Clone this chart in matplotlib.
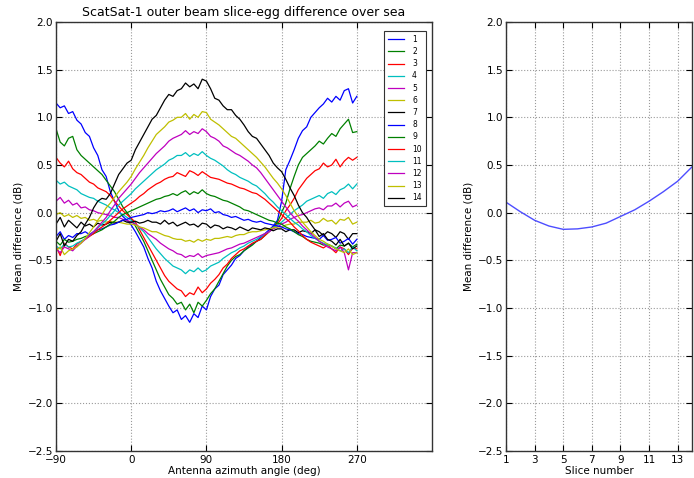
import numpy as np
import matplotlib
matplotlib.use("Agg")
import matplotlib.pyplot as plt

# Antenna azimuth sampling (deg), 5-degree steps from -90 to 270
azimuth = np.arange(-90, 271, 5)

# Mean slice-egg difference (dB) for each slice as a function of azimuth
slice_01 = [1.15, 1.10, 1.12, 1.04, 1.06, 0.97, 0.93, 0.84, 0.80, 0.68, 0.60, 0.45,
            0.38, 0.22, 0.12, 0.02, -0.04, -0.08, -0.13, -0.20, -0.28, -0.36, -0.48, -0.58,
            -0.72, -0.82, -0.90, -0.98, -1.05, -1.02, -1.12, -1.08, -1.15, -1.06, -1.10, -0.98,
            -1.02, -0.88, -0.80, -0.76, -0.65, -0.60, -0.55, -0.48, -0.45, -0.40, -0.36, -0.33,
            -0.30, -0.26, -0.22, -0.18, -0.14, -0.08, 0.12, 0.45, 0.55, 0.66, 0.78, 0.86,
            0.90, 1.00, 1.05, 1.10, 1.14, 1.20, 1.16, 1.22, 1.18, 1.28, 1.30, 1.15,
            1.22]
slice_02 = [0.88, 0.74, 0.70, 0.78, 0.80, 0.66, 0.60, 0.56, 0.52, 0.48, 0.44, 0.40,
            0.34, 0.28, 0.22, 0.14, 0.06, 0.00, -0.06, -0.14, -0.22, -0.30, -0.40, -0.50,
            -0.60, -0.70, -0.78, -0.86, -0.90, -0.96, -0.94, -1.02, -0.96, -1.05, -0.94, -0.98,
            -0.92, -0.85, -0.80, -0.72, -0.64, -0.56, -0.50, -0.46, -0.44, -0.40, -0.37, -0.34,
            -0.30, -0.28, -0.24, -0.20, -0.16, -0.10, 0.00, 0.10, 0.25, 0.38, 0.50, 0.58,
            0.62, 0.66, 0.70, 0.75, 0.72, 0.78, 0.83, 0.80, 0.88, 0.93, 0.98, 0.84,
            0.85]
slice_03 = [0.58, 0.52, 0.48, 0.54, 0.46, 0.42, 0.40, 0.36, 0.32, 0.30, 0.26, 0.24,
            0.22, 0.18, 0.12, 0.07, 0.02, -0.02, -0.06, -0.10, -0.18, -0.26, -0.34, -0.42,
            -0.50, -0.58, -0.66, -0.72, -0.76, -0.80, -0.82, -0.88, -0.84, -0.86, -0.78, -0.84,
            -0.80, -0.74, -0.70, -0.65, -0.58, -0.54, -0.48, -0.44, -0.40, -0.38, -0.35, -0.32,
            -0.30, -0.28, -0.24, -0.20, -0.16, -0.12, -0.06, 0.02, 0.08, 0.15, 0.24, 0.30,
            0.36, 0.40, 0.44, 0.46, 0.52, 0.48, 0.50, 0.56, 0.48, 0.54, 0.58, 0.55,
            0.58]
slice_04 = [0.34, 0.30, 0.32, 0.28, 0.26, 0.24, 0.20, 0.18, 0.16, 0.15, 0.12, 0.10,
            0.08, 0.05, 0.03, 0.00, -0.02, -0.05, -0.08, -0.12, -0.16, -0.20, -0.26, -0.32,
            -0.38, -0.43, -0.48, -0.52, -0.56, -0.58, -0.60, -0.64, -0.60, -0.62, -0.58, -0.62,
            -0.60, -0.56, -0.54, -0.52, -0.48, -0.45, -0.42, -0.40, -0.37, -0.35, -0.32, -0.30,
            -0.28, -0.25, -0.22, -0.20, -0.16, -0.13, -0.10, -0.06, -0.02, 0.02, 0.05, 0.08,
            0.12, 0.14, 0.16, 0.18, 0.15, 0.20, 0.22, 0.19, 0.24, 0.26, 0.30, 0.25,
            0.30]
slice_05 = [0.12, 0.16, 0.10, 0.13, 0.08, 0.10, 0.05, 0.06, 0.03, 0.02, 0.00, -0.01,
            -0.02, -0.03, -0.05, -0.05, -0.07, -0.08, -0.10, -0.12, -0.15, -0.18, -0.22, -0.25,
            -0.28, -0.32, -0.35, -0.38, -0.40, -0.43, -0.44, -0.47, -0.45, -0.46, -0.43, -0.47,
            -0.45, -0.44, -0.43, -0.42, -0.40, -0.38, -0.37, -0.35, -0.33, -0.32, -0.30, -0.28,
            -0.26, -0.24, -0.22, -0.20, -0.17, -0.15, -0.12, -0.10, -0.07, -0.05, -0.03, -0.02,
            0.00, 0.02, 0.04, 0.05, 0.03, 0.07, 0.07, 0.10, 0.06, 0.10, 0.12, 0.06,
            0.08]
slice_06 = [-0.02, 0.00, -0.04, -0.02, -0.05, -0.03, -0.06, -0.05, -0.08, -0.07, -0.09, -0.08,
            -0.10, -0.09, -0.10, -0.10, -0.11, -0.12, -0.12, -0.13, -0.15, -0.16, -0.18, -0.20,
            -0.20, -0.22, -0.24, -0.25, -0.27, -0.28, -0.28, -0.30, -0.29, -0.31, -0.28, -0.30,
            -0.28, -0.29, -0.27, -0.27, -0.26, -0.25, -0.26, -0.24, -0.23, -0.23, -0.21, -0.20,
            -0.20, -0.19, -0.18, -0.17, -0.16, -0.15, -0.15, -0.13, -0.12, -0.12, -0.10, -0.10,
            -0.10, -0.08, -0.11, -0.10, -0.06, -0.09, -0.08, -0.12, -0.07, -0.08, -0.05, -0.12,
            -0.10]
slice_07 = [-0.12, -0.05, -0.15, -0.08, -0.12, -0.16, -0.10, -0.14, -0.12, -0.15, -0.11, -0.13,
            -0.12, -0.10, -0.11, -0.10, -0.08, -0.10, -0.10, -0.09, -0.11, -0.10, -0.08, -0.10,
            -0.10, -0.12, -0.08, -0.12, -0.10, -0.14, -0.12, -0.10, -0.13, -0.12, -0.15, -0.11,
            -0.12, -0.16, -0.13, -0.14, -0.17, -0.15, -0.16, -0.18, -0.15, -0.17, -0.19, -0.16,
            -0.17, -0.18, -0.16, -0.17, -0.19, -0.17, -0.17, -0.20, -0.18, -0.18, -0.21, -0.19,
            -0.20, -0.22, -0.18, -0.20, -0.24, -0.20, -0.22, -0.26, -0.20, -0.22, -0.28, -0.22,
            -0.22]
slice_08 = [-0.25, -0.20, -0.28, -0.24, -0.26, -0.22, -0.22, -0.20, -0.23, -0.20, -0.18, -0.17,
            -0.15, -0.13, -0.12, -0.10, -0.08, -0.07, -0.05, -0.04, -0.03, -0.02, 0.00, -0.01,
            0.00, 0.02, 0.01, 0.02, 0.04, 0.01, 0.03, 0.05, 0.02, 0.04, 0.00, 0.03,
            0.02, 0.04, 0.00, 0.01, -0.02, -0.03, -0.05, -0.04, -0.06, -0.08, -0.07, -0.09,
            -0.10, -0.09, -0.11, -0.12, -0.13, -0.14, -0.15, -0.17, -0.18, -0.20, -0.22, -0.23,
            -0.25, -0.26, -0.27, -0.28, -0.24, -0.29, -0.28, -0.26, -0.32, -0.30, -0.27, -0.33,
            -0.28]
slice_09 = [-0.30, -0.34, -0.28, -0.31, -0.30, -0.28, -0.27, -0.25, -0.24, -0.22, -0.20, -0.18,
            -0.15, -0.12, -0.09, -0.05, -0.02, 0.00, 0.02, 0.04, 0.06, 0.08, 0.10, 0.12,
            0.14, 0.15, 0.17, 0.18, 0.20, 0.18, 0.21, 0.23, 0.19, 0.22, 0.20, 0.24,
            0.20, 0.18, 0.17, 0.15, 0.13, 0.12, 0.10, 0.08, 0.06, 0.03, 0.02, 0.00,
            -0.02, -0.04, -0.06, -0.08, -0.09, -0.11, -0.12, -0.15, -0.17, -0.20, -0.23, -0.25,
            -0.28, -0.30, -0.31, -0.32, -0.34, -0.33, -0.35, -0.38, -0.34, -0.35, -0.32, -0.36,
            -0.33]
slice_10 = [-0.35, -0.45, -0.32, -0.36, -0.38, -0.33, -0.30, -0.28, -0.25, -0.22, -0.18, -0.15,
            -0.12, -0.08, -0.04, 0.00, 0.04, 0.07, 0.10, 0.13, 0.17, 0.20, 0.24, 0.27,
            0.30, 0.32, 0.35, 0.37, 0.38, 0.42, 0.40, 0.38, 0.44, 0.42, 0.39, 0.43,
            0.40, 0.37, 0.36, 0.35, 0.33, 0.31, 0.30, 0.28, 0.26, 0.25, 0.23, 0.21,
            0.20, 0.17, 0.14, 0.10, 0.06, 0.02, -0.02, -0.06, -0.10, -0.15, -0.19, -0.24,
            -0.28, -0.31, -0.33, -0.35, -0.37, -0.34, -0.38, -0.42, -0.36, -0.38, -0.44, -0.37,
            -0.38]
slice_11 = [-0.35, -0.38, -0.33, -0.36, -0.35, -0.32, -0.30, -0.27, -0.24, -0.20, -0.16, -0.12,
            -0.08, -0.03, 0.02, 0.08, 0.12, 0.16, 0.20, 0.25, 0.29, 0.33, 0.37, 0.41,
            0.45, 0.48, 0.51, 0.55, 0.57, 0.60, 0.60, 0.63, 0.59, 0.62, 0.60, 0.64,
            0.60, 0.57, 0.55, 0.52, 0.49, 0.45, 0.42, 0.40, 0.37, 0.35, 0.33, 0.30,
            0.28, 0.24, 0.20, 0.15, 0.11, 0.06, 0.02, -0.02, -0.06, -0.10, -0.13, -0.17,
            -0.20, -0.24, -0.27, -0.30, -0.32, -0.34, -0.35, -0.37, -0.40, -0.38, -0.42, -0.36,
            -0.40]
slice_12 = [-0.38, -0.42, -0.36, -0.38, -0.40, -0.35, -0.32, -0.28, -0.24, -0.20, -0.15, -0.10,
            -0.05, 0.02, 0.08, 0.15, 0.20, 0.25, 0.30, 0.36, 0.42, 0.47, 0.52, 0.57,
            0.62, 0.66, 0.70, 0.75, 0.78, 0.80, 0.82, 0.86, 0.82, 0.85, 0.83, 0.88,
            0.85, 0.80, 0.78, 0.75, 0.70, 0.68, 0.65, 0.62, 0.60, 0.57, 0.54, 0.50,
            0.47, 0.42, 0.36, 0.30, 0.24, 0.18, 0.12, 0.06, 0.00, -0.05, -0.09, -0.14,
            -0.18, -0.22, -0.26, -0.30, -0.33, -0.36, -0.38, -0.40, -0.36, -0.42, -0.60, -0.42,
            -0.42]
slice_13 = [-0.40, -0.36, -0.44, -0.40, -0.38, -0.36, -0.32, -0.27, -0.21, -0.15, -0.08, -0.02,
            0.05, 0.10, 0.16, 0.22, 0.27, 0.32, 0.38, 0.46, 0.53, 0.60, 0.68, 0.75,
            0.82, 0.86, 0.90, 0.95, 0.97, 1.00, 1.00, 1.04, 0.98, 1.03, 1.00, 1.06,
            1.05, 0.98, 0.95, 0.92, 0.88, 0.84, 0.80, 0.78, 0.74, 0.70, 0.66, 0.62,
            0.58, 0.53, 0.48, 0.42, 0.36, 0.31, 0.25, 0.18, 0.10, 0.02, -0.04, -0.10,
            -0.15, -0.20, -0.24, -0.28, -0.30, -0.33, -0.35, -0.38, -0.40, -0.42, -0.38, -0.44,
            -0.42]
slice_14 = [-0.30, -0.22, -0.35, -0.28, -0.30, -0.24, -0.20, -0.12, -0.05, 0.05, 0.12, 0.15,
            0.14, 0.20, 0.30, 0.40, 0.46, 0.52, 0.55, 0.66, 0.74, 0.82, 0.90, 0.98,
            1.02, 1.10, 1.18, 1.24, 1.22, 1.28, 1.30, 1.36, 1.32, 1.35, 1.30, 1.40,
            1.38, 1.30, 1.20, 1.18, 1.12, 1.08, 1.08, 1.02, 0.98, 0.92, 0.85, 0.80,
            0.78, 0.72, 0.66, 0.60, 0.52, 0.47, 0.43, 0.35, 0.26, 0.18, 0.08, 0.00,
            -0.05, -0.12, -0.18, -0.25, -0.22, -0.28, -0.30, -0.34, -0.28, -0.35, -0.32, -0.38,
            -0.35]

slice_series = [slice_01, slice_02, slice_03, slice_04, slice_05, slice_06, slice_07,
                slice_08, slice_09, slice_10, slice_11, slice_12, slice_13, slice_14]
slice_labels = [str(i) for i in range(1, 15)]

# Azimuth-averaged difference per slice
slice_number = list(range(1, 15))
slice_mean = [0.11, 0.01, -0.08, -0.14, -0.175, -0.17, -0.15, -0.11, -0.04,
              0.03, 0.12, 0.22, 0.33, 0.48]

# Classic matplotlib colour cycle
colors = [(0, 0, 1), (0, 0.5, 0), (1, 0, 0), (0, 0.75, 0.75),
          (0.75, 0, 0.75), (0.75, 0.75, 0), (0, 0, 0)]

plt.rcParams['font.family'] = ['DejaVu Sans']
plt.rcParams['axes.unicode_minus'] = True

fig = plt.figure(figsize=(6.94, 4.78), dpi=100)
ax1 = fig.add_axes([0.0807, 0.0565, 0.5418, 0.8975])
ax2 = fig.add_axes([0.7291, 0.0565, 0.2680, 0.8975])


def style_axes(ax):
    ax.grid(True, linestyle=':', color='#9a9a9a', linewidth=0.8)
    ax.set_axisbelow(True)
    ax.tick_params(direction='in', top=True, right=True, labelsize=7.5,
                   length=4, width=0.8, pad=2)
    ax.tick_params(axis='x', pad=3)
    for sp in ax.spines.values():
        sp.set_linewidth(1.0)
        sp.set_color('#333333')
    ax.set_ylim(-2.5, 2.0)
    ax.set_yticks(np.arange(-2.5, 2.01, 0.5))
    ax.set_ylabel('Mean difference (dB)', fontsize=7.5, labelpad=3)


for i, vals in enumerate(slice_series):
    ax1.plot(azimuth, vals, color=colors[i % 7], linewidth=0.9, label=slice_labels[i])

style_axes(ax1)
ax1.set_xlim(-90, 360)
ax1.set_xticks([-90, 0, 90, 180, 270])
ax1.set_xlabel('Antenna azimuth angle (deg)', fontsize=7.5, labelpad=0.5)
ax1.set_title('ScatSat-1 outer beam slice-egg difference over sea', fontsize=9, pad=4)
leg = ax1.legend(loc='upper right', fontsize=5.5, handlelength=2.2, labelspacing=0.42,
                 borderpad=0.5, handletextpad=1.0, fancybox=False, framealpha=1,
                 bbox_to_anchor=(0.993, 0.988))
leg.get_frame().set_edgecolor('#333333')
leg.get_frame().set_linewidth(0.8)

ax2.plot(slice_number, slice_mean, color=(0.3, 0.3, 1), linewidth=1.0)
style_axes(ax2)
ax2.set_xlim(1, 14)
ax2.set_xticks([1, 3, 5, 7, 9, 11, 13])
ax2.set_xlabel('Slice number', fontsize=7.5, labelpad=0.5)

fig.savefig('out.png', dpi=100)
